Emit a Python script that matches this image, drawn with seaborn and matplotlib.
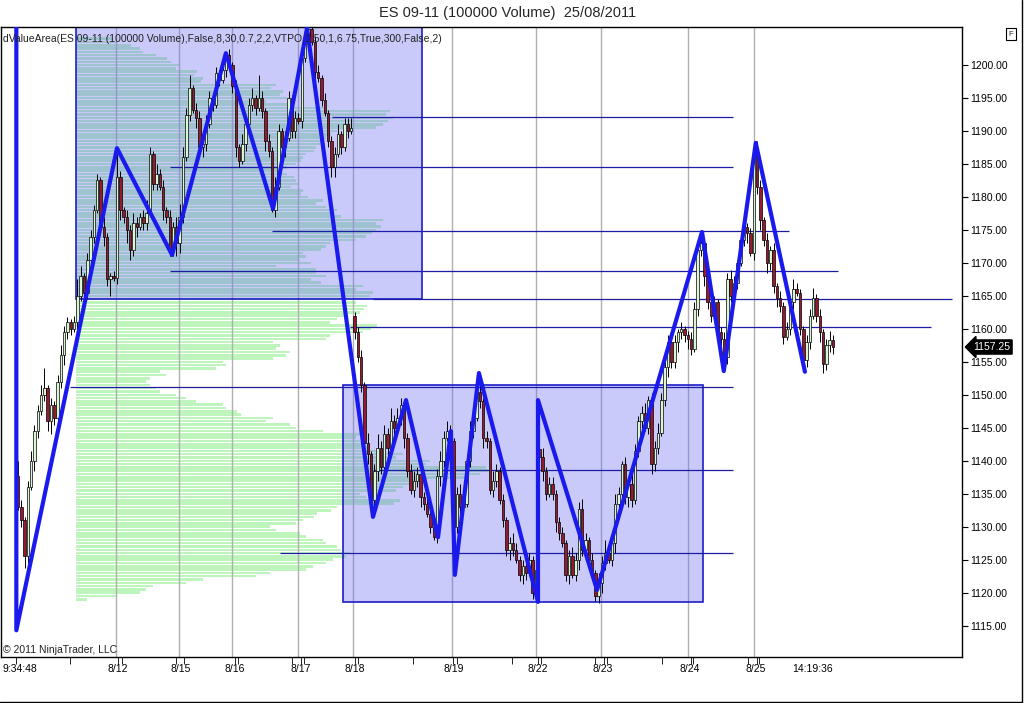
import numpy as np
import pandas as pd
import matplotlib
matplotlib.use("Agg")
import matplotlib.pyplot as plt
import matplotlib.transforms as mtransforms
from matplotlib.patches import Rectangle
from matplotlib.ticker import FormatStrFormatter
import seaborn as sns

# ---- candles (100000 volume bars), opens = previous close except session gaps ----
first_open = 1137.75
gap_idx = [102, 158]
gap_open = [1162, 1141.75]
closes = [
    1133, 1131, 1125.5, 1136, 1140, 1144.5, 1147.5, 1150, 1151, 1146,
    1148.5, 1146.5, 1152, 1156, 1159.5, 1161, 1160, 1161, 1165, 1168,
    1165.5, 1170.5, 1174, 1178, 1182.5, 1175.5, 1174, 1167.5, 1168, 1167.75,
    1183, 1178, 1177, 1175, 1172, 1176, 1175.5, 1177, 1176, 1177.5,
    1186.5, 1182, 1183.5, 1181.5, 1178, 1177, 1172, 1175.5, 1173, 1177,
    1186, 1192.5, 1196.5, 1193.25, 1192, 1187.5, 1188, 1191, 1195, 1194,
    1198.75, 1197.75, 1199.25, 1201.5, 1200, 1196.75, 1187.5, 1185.5, 1188, 1191,
    1194, 1195, 1193.5, 1195, 1193, 1188.5, 1187, 1178, 1181.5, 1190,
    1187.5, 1189, 1195, 1190, 1192, 1191.5, 1201, 1204, 1205.5, 1203.5,
    1199, 1198, 1194.75, 1192.75, 1188.5, 1184.5, 1186.5, 1189.5, 1187.5, 1191,
    1190, 1190.5, 1159.5, 1155.75, 1151.5, 1142.75, 1141, 1134, 1138.5, 1142,
    1139, 1144, 1142, 1146, 1145, 1146.5, 1148.5, 1143.5, 1138.5, 1135.5,
    1137, 1138, 1134.5, 1133.5, 1132, 1130, 1128.5, 1137.75, 1140, 1143.5,
    1144.5, 1143, 1130, 1135, 1133, 1133.5, 1140, 1144.5, 1146.5, 1150.5,
    1149, 1143.5, 1143, 1135.5, 1137, 1138.5, 1134, 1131, 1126.5, 1127.5,
    1126.5, 1125, 1122.75, 1124, 1123, 1125, 1120, 1123.5, 1140.5, 1138.5,
    1135, 1136.5, 1135, 1130.75, 1129, 1127.5, 1122.75, 1125.5, 1122.75, 1125,
    1132.75, 1126.5, 1128, 1125, 1123, 1119.5, 1121.5, 1124.5, 1126, 1125,
    1127.5, 1133.5, 1135, 1139.5, 1134.5, 1136.5, 1134, 1141.5, 1146, 1147.25,
    1145, 1149.25, 1139.5, 1142, 1144.25, 1149.25, 1154.25, 1158, 1155, 1158,
    1159.5, 1160, 1159, 1158.5, 1157, 1163, 1172, 1173, 1168, 1164,
    1162, 1164, 1159.5, 1158.5, 1155.75, 1167.5, 1165, 1167, 1170, 1173.5,
    1175.5, 1174.5, 1171.5, 1186.5, 1181.5, 1176.5, 1173.5, 1170, 1172, 1166.5,
    1164.75, 1163.5, 1158.75, 1160, 1164, 1166, 1165.5, 1160, 1155.25, 1158,
    1162, 1164.75, 1162, 1159.5, 1154.75, 1157.5, 1158.25, 1157.25,
]
wick_hi = [
    2.25, 1, 0.5, 1, 1.5, 1, 1, 1.5, 3, 0.5,
    1, 0.5, 1, 1.5, 1, 0.75, 0.5, 1, 2.5, 1.5,
    0.5, 1, 1, 0.75, 1, 0.5, 1.5, 0.5, 0.5, 0.75,
    4, 1, 0.5, 1, 0.75, 1.5, 1, 0.5, 1, 2,
    1, 0.5, 1.5, 0.75, 1, 0.5, 1, 0.75, 1.5, 2,
    1.5, 1, 2, 0.5, 1, 1, 0.5, 1.5, 1, 0.75,
    1, 0.5, 1.5, 0.5, 1, 0.5, 1, 0.5, 1.5, 1,
    1, 1.5, 0.5, 3.5, 1, 0.5, 1, 0.5, 1.5, 1,
    0.5, 1, 1, 0.5, 1, 0.75, 1.5, 0.75, 0.5, 0.5,
    0.75, 1, 0.5, 1, 0.5, 0.75, 1, 1.5, 0.5, 1,
    1, 1.5, 0.5, 0.75, 1, 0.5, 1.5, 0.5, 1, 2,
    1, 1.5, 1, 2, 1, 1.5, 1, 0.5, 0.75, 1,
    1.5, 1, 0.5, 0.75, 1, 0.5, 0.75, 1, 1.5, 1,
    1.5, 1, 0.5, 1, 1.5, 1, 1, 1.5, 1, 2.5,
    1, 0.5, 1, 0.5, 1.5, 1, 0.5, 1, 0.5, 1,
    1.5, 1, 0.5, 1, 1.5, 1, 0.5, 1, 0.5, 1.5,
    0.5, 1, 1, 0.5, 0.75, 1, 0.5, 1, 1.5, 1,
    1, 1.5, 1, 0.5, 1, 0.5, 1.5, 1, 2, 1,
    1, 1.5, 1, 0.5, 1, 0.5, 1.5, 1, 0.75, 1,
    1.5, 0.5, 1, 1, 1.5, 1, 1.25, 1, 0.5, 1,
    0.5, 1, 0.5, 0.75, 1, 1, 1.5, 1.5, 0.5, 1,
    1.5, 1, 0.5, 0.75, 1, 1, 1.5, 1, 0.5, 1,
    1.5, 0.5, 0.75, 1, 2, 1, 0.5, 1, 0.5, 1,
    0.5, 1, 0.5, 1, 1, 1.5, 1, 0.5, 0.5, 1,
    1, 1.5, 0.5, 1, 0.5, 1, 1.5, 0.75,
]
wick_lo = [
    0.5, 1, 1.75, 1, 0.5, 1.5, 1, 0.5, 1, 1.5,
    2, 1, 0.5, 1, 1.5, 1, 1, 0.5, 1, 0.75,
    1.5, 1, 0.5, 1, 0.5, 1, 1.5, 1, 2.5, 0.5,
    1, 1.5, 1, 2, 1.5, 1, 1.5, 0.5, 1, 1,
    0.5, 1, 1, 0.5, 1.5, 1, 1, 1, 2, 1.5,
    1, 0.5, 1, 0.5, 1.5, 1, 1.5, 1, 0.5, 1,
    0.5, 1, 0.5, 1, 0.5, 1, 1.5, 1, 0.5, 1,
    0.5, 1, 1, 0.5, 1, 1.5, 1, 0.25, 1, 0.5,
    1, 1.5, 0.5, 1, 1, 0.5, 1, 0.5, 1, 0.5,
    1, 0.5, 1, 0.5, 1, 1.5, 1.5, 0.5, 1, 0.5,
    1, 0.5, 1, 0.75, 1, 0.5, 1.5, 2.5, 1, 1.5,
    1, 0.5, 2, 1, 1, 0.5, 1, 1.5, 1, 0.5,
    1, 1, 1.5, 1, 0.5, 1, 0.5, 1, 1.5, 1,
    0.5, 1, 7.25, 1, 2, 1, 0.5, 1, 1, 0.5,
    1, 1.5, 1, 0.5, 1, 1, 0.5, 1, 1, 1.5,
    1, 0.5, 1, 1.5, 1, 0.5, 1, 1, 1, 1.5,
    1, 0.5, 1, 1.5, 1, 0.5, 1, 1.5, 0.5, 1,
    1.5, 1, 0.5, 1, 0.5, 0.75, 1, 1.5, 1, 0.5,
    1, 1.5, 1, 1, 1, 1.5, 1, 0.5, 1, 1,
    0.5, 1, 1.5, 1, 1, 0.5, 1, 1.5, 1, 1,
    1.5, 1, 1, 1.5, 1, 0.5, 1, 1, 1.5, 1,
    1, 0.5, 1, 1, 2, 1, 1, 0.5, 1, 0.5,
    1, 1.5, 0.5, 1, 1, 1.5, 1, 1.5, 1, 1,
    1.5, 1, 1, 0.5, 1, 1, 0.5, 1, 1.5, 1,
    1, 0.5, 1, 1.5, 1.5, 1, 1, 1,
]

# ---- volume profile, 0.5 pt levels from 1204 down ----
profile_top = 1204
profile_vol = [
    37, 40, 55, 64, 67, 80, 91, 95, 104, 100,
    121, 118, 127, 125, 200, 195, 207, 204, 211, 190,
    211, 250, 314, 310, 317, 312, 307, 300, 261, 255,
    250, 247, 245, 240, 238, 230, 227, 225, 220, 211,
    205, 211, 218, 220, 222, 215, 227, 225, 232, 247,
    240, 250, 261, 258, 265, 307, 300, 305, 300, 296,
    290, 280, 254, 250, 245, 227, 230, 222, 235, 200,
    240, 240, 250, 235, 245, 287, 280, 297, 294, 284,
    280, 291, 288, 284, 270, 261, 254, 301, 295, 287,
    254, 250, 197, 204, 200, 214, 210, 197, 147, 150,
    140, 84, 90, 74, 70, 74, 80, 84, 100, 110,
    120, 147, 150, 161, 165, 197, 190, 214, 220, 247,
    287, 280, 284, 290, 294, 300, 327, 320, 354, 350,
    410, 412, 404, 390, 344, 340, 327, 320, 284, 290,
    324, 318, 261, 255, 241, 238, 227, 220, 194, 200,
    224, 230, 247, 250, 261, 265, 274, 270, 257, 250,
    237, 230, 194, 180, 127, 110, 77, 70, 64, 40,
    11,
]
profile_start = 17.6

# ---- value area boxes ----
box_x0 = [17.6, 98.5]
box_x1 = [122.4, 207.6]
box_lo = [1164.6, 1118.6]
box_hi = [1206.5, 1151.5]

# ---- horizontal level lines ----
hl_price = [1192.1, 1184.5, 1174.8, 1168.8, 1164.5, 1160.3, 1151.2, 1138.6, 1126.0]
hl_start = [95.2, 46.0, 77.0, 46.0, 107.6, 100.6, 15.8, 107.6, 79.4]
hl_end = [216.7, 216.7, 233.6, 248.5, 283.0, 276.7, 216.7, 216.7, 216.7]

# ---- zigzag pivots ----
zz_x = [-0.5, -0.5, 30, 46.7, 63, 77.3, 87.6, 107.6, 117.6, 127.3, 131.2,
        132.4, 139.7, 157.6, 157.6, 175.5, 207.3, 213.9, 223.6, 238.5]
zz_y = [1206.5, 1114.3, 1187.4, 1171.2, 1201.8, 1178.2, 1205.6, 1131.5, 1149.2,
        1128.4, 1144.5, 1122.7, 1153.3, 1118.6, 1149.2, 1120.4, 1174.7, 1153.6,
        1188.2, 1153.5]

# ---- session separators and x axis ----
session_breaks = [29.6, 48.7, 64.9, 84.9, 101.4, 131.4, 156.9, 176.7, 203.1, 223.0]
xlabel_pos = [0.45, 30.2, 49.4, 65.7, 85.7, 102, 132, 157.5, 177.3, 203.6, 223.6, 240.9]
xlabels = ["9:34:48", "8/12", "8/15", "8/16", "8/17", "8/18", "8/19", "8/22",
           "8/23", "8/24", "8/25", "14:19:36"]
xtick_marks = [-0.6, 15.8, 30.3, 31.5, 47.9, 49.4, 50.3, 65.8, 66.7, 83.0, 85.8,
               86.7, 102.1, 103.0, 119.7, 131.8, 133.0, 149.7, 157.6, 158.5, 174.8,
               177.6, 178.5, 195.2, 203.9, 204.5, 221.2, 224.0, 224.5, 240.9]

sns.set_style("white")
plt.rcParams["font.family"] = ["Liberation Sans", "DejaVu Sans"]

df = pd.DataFrame({"close": closes, "whi": wick_hi, "wlo": wick_lo})
df["open"] = [first_open] + closes[:-1]
df.loc[gap_idx, "open"] = gap_open
df["high"] = df[["open", "close"]].max(axis=1) + df["whi"]
df["low"] = df[["open", "close"]].min(axis=1) - df["wlo"]
df["i"] = np.arange(len(df))
up = df["close"] >= df["open"]

px_per_bar = 3.3
prof = pd.DataFrame({"vol": profile_vol})
prof["price"] = profile_top - 0.5 * np.arange(len(prof))

fig = plt.figure(figsize=(10.24, 7.03), dpi=100)
ax = fig.add_axes([1 / 1024, 46 / 703, 961 / 1024, 630 / 703])
ax.set_xlim(-5.15, 286.1)
ax.set_ylim(1110.25, 1205.77)

ax.barh(prof["price"], prof["vol"] / px_per_bar, left=profile_start, height=0.38,
        color="#bdf5bd", lw=0, zorder=1)

ax.vlines(session_breaks, 1100, 1210, color="#b0b0b0", lw=1, zorder=1.5)

for x0, x1, lo, hi in zip(box_x0, box_x1, box_lo, box_hi):
    ax.add_patch(Rectangle((x0, lo), x1 - x0, hi - lo, fc=(0.4, 0.4, 0.95, 0.35),
                           ec="#1e1ec8", lw=1.2, zorder=2))

ax.hlines(hl_price, hl_start, hl_end, color="#1c1ca6", lw=0.9, zorder=3)

ax.vlines(df["i"], df["low"], df["high"], color="black", lw=0.7, zorder=4)
body = (df["close"] - df["open"]).abs().clip(lower=0.15)
ax.bar(df["i"], body, bottom=df[["open", "close"]].min(axis=1), width=0.75,
       color=np.where(up, "#d9f5d2", "#951a30"), edgecolor="black", lw=0.5, zorder=4.5)

sns.lineplot(x=zz_x, y=zz_y, sort=False, estimator=None, color="#1a1aee",
             lw=3, ax=ax, zorder=6)

# axes styling
for s in ax.spines.values():
    s.set_color("black")
    s.set_linewidth(1)
ax.yaxis.tick_right()
ax.set_yticks(np.arange(1115, 1201, 5))
ax.yaxis.set_major_formatter(FormatStrFormatter("%.2f"))
ax.tick_params(axis="y", direction="out", length=4, labelsize=7.5, pad=2,
               right=True, left=False, colors="black")
ax.set_xticks(xlabel_pos)
ax.set_xticklabels(xlabels)
ax.set_xticks(xtick_marks, minor=True)
ax.tick_params(axis="x", which="major", length=0, labelsize=7.5, pad=5, colors="black")
ax.tick_params(axis="x", which="minor", length=5, direction="out", bottom=True, color="black")
ax.set_xlabel("")
ax.set_ylabel("")
ax.grid(False)

# last price marker
trans = mtransforms.blended_transform_factory(ax.transAxes, ax.transData)
ax.text(1 + 11 / 961, closes[-1], f"{closes[-1]:.2f}", transform=trans, ha="left",
        va="center", color="white", fontsize=7.5, clip_on=False, zorder=10,
        bbox=dict(boxstyle="larrow,pad=0.2", fc="black", ec="black"))

fig.text(508 / 1024, 1 - 13 / 703, "ES 09-11 (100000 Volume)  25/08/2011",
         ha="center", va="center", fontsize=10.5)
fig.text(3 / 1024, 1 - 39 / 703,
         "dValueArea(ES 09-11 (100000 Volume),False,8,30,0.7,2,2,VTPO,1,50,1,6.75,True,300,False,2)",
         ha="left", va="center", fontsize=7.5, color="#222222", zorder=7)
fig.text(3 / 1024, 1 - 650 / 703, "\u00a9 2011 NinjaTrader, LLC", ha="left",
         va="center", fontsize=7.5, color="#222222")
fig.text(1011 / 1024, 1 - 34 / 703, "F", ha="center", va="center", fontsize=5.5,
         bbox=dict(boxstyle="square,pad=0.3", fc="white", ec="black", lw=0.8))

fig.add_artist(plt.Line2D([0, 1021.5 / 1024], [1.5 / 703, 1.5 / 703],
                          transform=fig.transFigure, color="black", lw=1))
fig.add_artist(plt.Line2D([1021.5 / 1024, 1021.5 / 1024], [1.5 / 703, 1],
                          transform=fig.transFigure, color="black", lw=1))

fig.savefig("out.png", dpi=100)
